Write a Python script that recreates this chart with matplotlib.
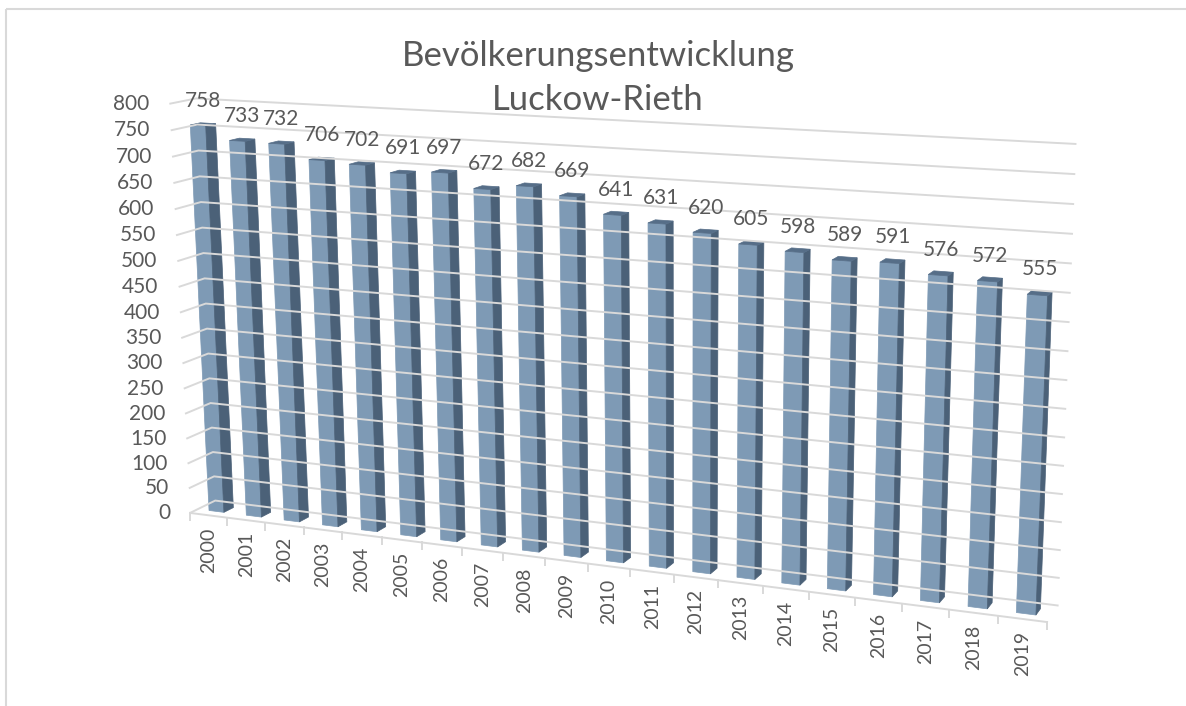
import numpy as np
import matplotlib.pyplot as plt
from matplotlib.patches import Polygon, Rectangle

# ---------------------------------------------------------------
# Daten
# ---------------------------------------------------------------
jahre = [str(j) for j in range(2000, 2020)]
einwohner = [758, 733, 732, 706, 702, 691, 697, 672, 682, 669,
             641, 631, 620, 605, 598, 589, 591, 576, 572, 555]
y_ticks = list(range(0, 801, 50))
y_max = 800
titel = "Bevölkerungsentwicklung\nLuckow-Rieth"

# ---------------------------------------------------------------
# 3D-Perspektive (wie Excel 3D-Säulen)
# ---------------------------------------------------------------
W, H = 1186, 706
n = len(einwohner)
wand_h = 9.442    # Welthöhe für y_max
tiefe = 1.05      # Bodentiefe
balken_b = 0.4    # Säulenbreite/-tiefe

psi = np.radians(21.5)    # Drehung um die senkrechte Achse
theta = np.radians(13.0)  # Blick von oben
R = 48.0
F = 2294.2
cx, cy = 684.4, 344.4

ziel = np.array([12.0, 4.87, 0.6])
cam = ziel + R * np.array([np.sin(psi) * np.cos(theta), np.sin(theta),
                           -np.cos(psi) * np.cos(theta)])
fw = (ziel - cam) / np.linalg.norm(ziel - cam)
rt = np.cross([0, 1, 0], fw)
rt /= np.linalg.norm(rt)
up = np.cross(fw, rt)


def proj(X, Y, Z):
    d = np.array([X, Y / y_max * wand_h, Z]) - cam
    zc = d @ fw
    return cx + F * (d @ rt) / zc, cy - F * (d @ up) / zc


fig = plt.figure(figsize=(W / 100, H / 100), dpi=100)
ax = fig.add_axes([0, 0, 1, 1])
ax.set_xlim(0, W)
ax.set_ylim(H, 0)
ax.axis("off")

ax.add_patch(Rectangle((5.5, 8.5), W + 20, H + 20, fill=False,
                       edgecolor="#D9D9D9", lw=1.5))

grau = "#D9D9D9"
text_farbe = "#595959"

# Gitternetz an Seiten- und Rückwand
for v in y_ticks:
    p = [proj(0, v, 0), proj(0, v, tiefe), proj(n, v, tiefe)]
    ax.plot([q[0] for q in p], [q[1] for q in p], color=grau, lw=1.4,
            solid_capstyle="butt")
    x, y = proj(0, v, 0)
    ax.text(x - 20, y, str(v), ha="right", va="center", fontsize=15,
            color=text_farbe, family="Lato")

# Kategorienachse mit Teilstrichen
a, b = proj(0, 0, 0), proj(n, 0, 0)
ax.plot([a[0], b[0]], [a[1], b[1]], color=grau, lw=1.4)
for i in range(n + 1):
    x, y = proj(i, 0, 0)
    ax.plot([x, x], [y, y + 7], color=grau, lw=1.4)

for i, j in enumerate(jahre):
    x, y = proj(i + 0.5, 0, 0)
    ax.text(x, y + 12, j, rotation=90, ha="center", va="top", fontsize=14,
            color=text_farbe, family="Lato")

# Säulen (von hinten links nach vorne rechts)
front_farbe = "#7E9AB5"
seite_farbe = "#4B6178"
oben_farbe = "#566E88"
z0 = (tiefe - balken_b) / 2
z1 = z0 + balken_b
for i, v in enumerate(einwohner):
    x0 = i + (1 - balken_b) / 2
    x1 = x0 + balken_b
    vorne = [proj(x0, 0, z0), proj(x1, 0, z0), proj(x1, v, z0), proj(x0, v, z0)]
    seite = [proj(x1, 0, z0), proj(x1, 0, z1), proj(x1, v, z1), proj(x1, v, z0)]
    oben = [proj(x0, v, z0), proj(x1, v, z0), proj(x1, v, z1), proj(x0, v, z1)]
    ax.add_patch(Polygon(vorne, closed=True, facecolor=front_farbe,
                         edgecolor=front_farbe, lw=0.5))
    ax.add_patch(Polygon(seite, closed=True, facecolor=seite_farbe,
                         edgecolor=seite_farbe, lw=0.5))
    ax.add_patch(Polygon(oben, closed=True, facecolor=oben_farbe,
                         edgecolor=oben_farbe, lw=0.5))

# Datenbeschriftungen
for i, v in enumerate(einwohner):
    x, y = proj(i + 0.5, v, tiefe / 2)
    ax.annotate(str(v), (x, y), xytext=(0, 17), textcoords="offset points",
                ha="center", va="center", fontsize=15, color=text_farbe,
                family="Lato")

fig.text(598 / W, 1 - 78 / H, titel, ha="center", va="center",
         fontsize=25, color=text_farbe, family="Lato",
         linespacing=1.48)

fig.savefig("out.png", dpi=100)
